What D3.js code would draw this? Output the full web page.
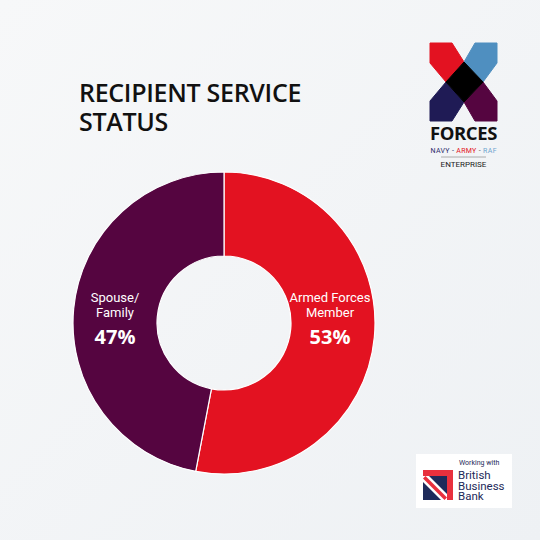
<!DOCTYPE html>
<html><head><meta charset="utf-8">
<script src="https://cdn.jsdelivr.net/npm/d3@7/dist/d3.min.js"></script>
<style>html,body{margin:0;padding:0;}svg{display:block;}</style>
</head><body>
<svg id="c" width="540" height="540"></svg>
<script>
const categories = ["Armed Forces Member", "Spouse/Family"];
const labelLines = [["Armed Forces", "Member"], ["Spouse/", "Family"]];
const values = [53, 47];
const valueLabels = ["53%", "47%"];
const colors = ["#e31221", "#550540"];
const titleLines = ["RECIPIENT SERVICE", "STATUS"];

const svg = d3.select("#c");
const defs = svg.append("defs");
const grad = defs.append("linearGradient").attr("id","bg").attr("x1","0").attr("y1","0").attr("x2","1").attr("y2","1");
grad.append("stop").attr("offset","0").attr("stop-color","#f7f8f9");
grad.append("stop").attr("offset","1").attr("stop-color","#eef1f4");
svg.append("rect").attr("width",540).attr("height",540).attr("fill","url(#bg)");

const font = "'Open Sans', 'Noto Sans', sans-serif";
const narrow = "Roboto, 'Open Sans', sans-serif";
const title = svg.append("text").attr("x",79).attr("y",102)
  .attr("font-family",font).attr("font-weight",600).attr("font-size",25)
  .attr("fill","#111").attr("letter-spacing",-0.3);
title.selectAll("tspan").data(titleLines).join("tspan")
  .attr("x",79).attr("dy",(d,i)=>i===0?0:29).text(d=>d);

const cx = 224, cy = 323, R = 151, r = 67;
const pie = d3.pie().sort(null).value(d=>d);
const arcs = pie(values);
const arc = d3.arc().innerRadius(r).outerRadius(R);
const g = svg.append("g").attr("transform",`translate(${cx},${cy})`);
g.selectAll("path").data(arcs).join("path")
  .attr("d",arc).attr("fill",(d,i)=>colors[i])
  .attr("stroke","#ffffff").attr("stroke-width",1.2);

const lx = [330-cx, 115-cx];
arcs.forEach((a,i)=>{
  const t = g.append("g").attr("transform",`translate(${lx[i]},0)`);
  labelLines[i].forEach((l,j)=>{
    t.append("text").attr("x",0).attr("y",-21+j*15).attr("text-anchor","middle")
      .attr("font-family",narrow).attr("font-size",13).attr("fill","#fff").text(l);
  });
  t.append("text").attr("x",0).attr("y",21).attr("text-anchor","middle")
    .attr("font-family",font).attr("font-weight",700).attr("font-size",20).attr("fill","#fff").text(valueLabels[i]);
});

// Forces logo
const logo = svg.append("g");
const shapes = [
  {c:"#e31221", p:[[430,43],[452,43],[464,62],[446,82],[430,63]]},
  {c:"#4f8fc0", p:[[475,43],[497,43],[497,63],[483,82],[464,62]]},
  {c:"#1f1b55", p:[[446,82],[464,102],[452,121],[430,121],[430,101]]},
  {c:"#550540", p:[[483,82],[497,101],[497,121],[475,121],[464,102]]},
  {c:"#000000", p:[[464,62],[483,82],[464,102],[446,82]]}
];
logo.selectAll("path").data(shapes).join("path")
  .attr("d",d=>"M"+d.p.map(q=>q.join(",")).join("L")+"Z")
  .attr("fill",d=>d.c).attr("stroke",d=>d.c).attr("stroke-width",1).attr("stroke-linejoin","round");
logo.append("text").attr("x",463.5).attr("y",139.5).attr("text-anchor","middle")
  .attr("font-family",font).attr("font-weight",700).attr("font-size",18.5).attr("letter-spacing",-0.4).attr("fill","#111").text("FORCES");
const subParts = [["NAVY - ","#2b2a6b"],["ARMY","#e31221"],[" - ","#555"],["RAF","#6fa4cf"]];
const sub = logo.append("text").attr("x",430.5).attr("y",152.5)
  .attr("font-family",narrow).attr("font-size",7).attr("textLength",66).attr("lengthAdjust","spacing");
sub.selectAll("tspan").data(subParts).join("tspan").attr("fill",d=>d[1]).text(d=>d[0]);
logo.append("line").attr("x1",441).attr("x2",486).attr("y1",157).attr("y2",157).attr("stroke","#999").attr("stroke-width",0.8);
logo.append("text").attr("x",463.5).attr("y",167).attr("text-anchor","middle")
  .attr("font-family",narrow).attr("font-size",8).attr("fill","#222").text("ENTERPRISE");

// British Business Bank badge
const b = svg.append("g");
b.append("rect").attr("x",416).attr("y",454).attr("width",96).attr("height",54).attr("fill","#ffffff");
b.append("rect").attr("x",423).attr("y",476).attr("width",24).attr("height",24).attr("fill","#1e2a5a");
b.append("path").attr("d","M423,476 L429,476 L447,494 L447,500 L441,500 L423,482 Z").attr("fill","#fff");
b.append("path").attr("d","M423,478.5 L425.5,476 L447,497.5 L444.5,500 Z").attr("fill","#e8303d");
b.append("path").attr("d","M423,470 L453,470 L453,500 L447,500 L447,476 L423,476 Z").attr("fill","#e8303d");
b.append("text").attr("x",459).attr("y",465).attr("font-family",narrow).attr("font-size",7).attr("fill","#1e2a5a").text("Working with");
const bank = b.append("text").attr("x",458).attr("y",479).attr("font-family",narrow).attr("font-size",11.5).attr("fill","#1e2a5a");
bank.selectAll("tspan").data(["British","Business","Bank"]).join("tspan")
  .attr("x",458).attr("dy",(d,i)=>i===0?0:10.5).text(d=>d);
</script>
</body></html>
